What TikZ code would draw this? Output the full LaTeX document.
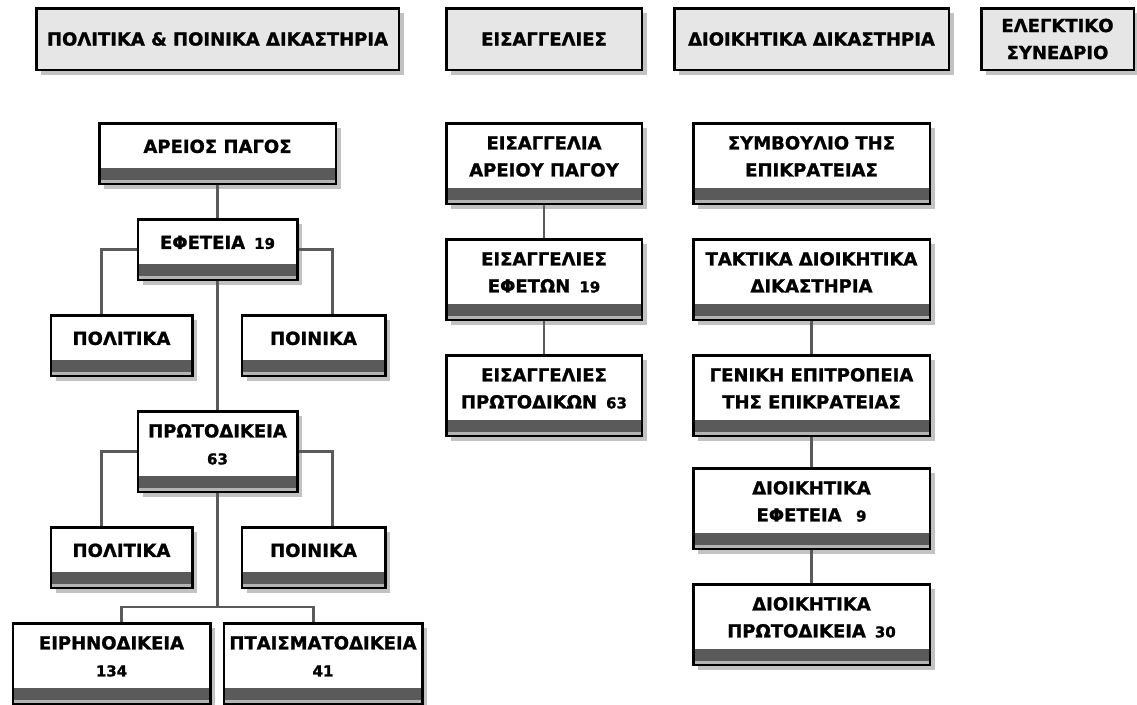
\documentclass[tikz,border=0pt]{standalone}
\usepackage{fontspec}
\setmainfont{DejaVu Sans}[BoldFeatures={FakeBold=1.2}]
\usetikzlibrary{positioning,calc,shadows}

\definecolor{bandgray}{HTML}{5A5A5A}
\definecolor{stripgray}{HTML}{B4B4B4}
\definecolor{headgray}{HTML}{E6E6E6}
\definecolor{linegray}{HTML}{5A5A5A}

\newcommand{\cnt}[1]{{\fontsize{15}{27}\selectfont #1}}
\newcommand{\boxtext}[1]{\raisebox{6pt}[\height][\depth]{\begin{tabular}{@{}c@{}}#1\end{tabular}}}

\begin{document}
\begin{tikzpicture}[font=\fontsize{18}{27}\selectfont\bfseries,node distance=33pt]

  \tikzstyle{H}=[rectangle, draw, line width=2.5pt, fill=headgray, minimum
    height=61.5pt, inner sep=0pt, align=center,
    drop shadow={shadow xshift=5pt,shadow yshift=-5pt,fill=black!40,opacity=.6}];
  \tikzstyle{C}=[rectangle, draw, line width=2.5pt, fill=white, minimum
    height=60.5pt, inner sep=0pt,
    drop shadow={shadow xshift=5pt,shadow yshift=-5pt,fill=black!40,opacity=.6},
    path picture={
      \fill[stripgray] (path picture bounding box.south west) rectangle
        ($(path picture bounding box.south east)+(0,16pt)$);
      \fill[bandgray] ($(path picture bounding box.south west)+(0,3.5pt)$) rectangle
        ($(path picture bounding box.south east)+(0,16pt)$);}];
  \tikzstyle{TALL}=[minimum height=80.5pt];
  \tikzstyle{link}=[draw=linegray, line width=2.5pt];

  \useasboundingbox (0,0) rectangle (1137pt,-704pt);

  %% headers
  \node [H,minimum width=362.5pt,anchor=north west] at (35pt,-7pt) (hpol) {ΠΟΛΙΤΙΚΑ \& ΠΟΙΝΙΚΑ ΔΙΚΑΣΤΗΡΙΑ};
  \node [H,minimum width=195.5pt,right=45pt of hpol] (heis) {ΕΙΣΑΓΓΕΛΙΕΣ};
  \node [H,minimum width=274.5pt,right=30pt of heis] (hdio) {ΔΙΟΙΚΗΤΙΚΑ ΔΙΚΑΣΤΗΡΙΑ};
  \node [H,minimum width=152.5pt,right=30pt of hdio] (hele) {ΕΛΕΓΚΤΙΚΟ\\ΣΥΝΕΔΡΙΟ};

  %% civil & criminal courts
  \node [C,minimum width=236.5pt,below=51pt of hpol] (areios) {\boxtext{ΑΡΕΙΟΣ ΠΑΓΟΣ}};
  \node [C,minimum width=159.5pt,below=of areios] (efeteia) {\boxtext{ΕΦΕΤΕΙΑ\hspace{.5em}\cnt{19}}};
  \node [C,minimum width=141.5pt,below=of efeteia,xshift=-96pt] (pol1) {\boxtext{ΠΟΛΙΤΙΚΑ}};
  \node [C,minimum width=143.5pt,below=of efeteia,xshift=96pt] (poin1) {\boxtext{ΠΟΙΝΙΚΑ}};

  \node [C,TALL,minimum width=159.5pt,below=129pt of efeteia] (protod) {\boxtext{ΠΡΩΤΟΔΙΚΕΙΑ\\\cnt{63}}};
  \node [C,minimum width=141.5pt,below=of protod,xshift=-96pt] (pol2) {\boxtext{ΠΟΛΙΤΙΚΑ}};
  \node [C,minimum width=143.5pt,below=of protod,xshift=96pt] (poin2) {\boxtext{ΠΟΙΝΙΚΑ}};

  \node [C,TALL,minimum width=197.5pt,below=129pt of protod,xshift=-106pt] (eir) {\boxtext{ΕΙΡΗΝΟΔΙΚΕΙΑ\\\cnt{134}}};
  \node [C,TALL,minimum width=198.5pt,below=129pt of protod,xshift=105.5pt] (pta) {\boxtext{ΠΤΑΙΣΜΑΤΟΔΙΚΕΙΑ\\\cnt{41}}};

  \draw[link] (areios) -- (efeteia);
  \draw[link] (efeteia.west) -| ([xshift=52pt]pol1.north west);
  \draw[link] (efeteia.east) -| ([xshift=-54pt]poin1.north east);
  \draw[link] (efeteia) -- (protod);
  \draw[link] (protod.west) -| ([xshift=52pt]pol2.north west);
  \draw[link] (protod.east) -| ([xshift=-54pt]poin2.north east);
  \coordinate [below=114pt of protod.south] (fork);
  \draw[link] (protod) -- (fork);
  \draw[link] ([xshift=110pt]eir.north west) |- (fork) -| ([xshift=91pt]pta.north west);

  %% prosecutors
  \node [C,TALL,minimum width=195.5pt,below=51pt of heis] (eisap) {\boxtext{ΕΙΣΑΓΓΕΛΙΑ\\ΑΡΕΙΟΥ ΠΑΓΟΥ}};
  \node [C,TALL,minimum width=195.5pt,below=of eisap] (eisef) {\boxtext{ΕΙΣΑΓΓΕΛΙΕΣ\\ΕΦΕΤΩΝ\hspace{.5em}\cnt{19}}};
  \node [C,TALL,minimum width=195.5pt,below=of eisef] (eispr) {\boxtext{ΕΙΣΑΓΓΕΛΙΕΣ\\ΠΡΩΤΟΔΙΚΩΝ\hspace{.5em}\cnt{63}}};

  \draw[link] (eisap) -- (eisef);
  \draw[link] (eisef) -- (eispr);

  %% administrative courts
  \node [C,TALL,minimum width=236.5pt,below=51pt of hdio] (symv) {\boxtext{ΣΥΜΒΟΥΛΙΟ ΤΗΣ\\ΕΠΙΚΡΑΤΕΙΑΣ}};
  \node [C,TALL,minimum width=236.5pt,below=of symv] (takt) {\boxtext{ΤΑΚΤΙΚΑ ΔΙΟΙΚΗΤΙΚΑ\\ΔΙΚΑΣΤΗΡΙΑ}};
  \node [C,TALL,minimum width=236.5pt,below=of takt] (genik) {\boxtext{ΓΕΝΙΚΗ ΕΠΙΤΡΟΠΕΙΑ\\ΤΗΣ ΕΠΙΚΡΑΤΕΙΑΣ}};
  \node [C,TALL,minimum width=236.5pt,below=30pt of genik] (dioef) {\boxtext{ΔΙΟΙΚΗΤΙΚΑ\\ΕΦΕΤΕΙΑ\hspace{.8em}\cnt{9}}};
  \node [C,TALL,minimum width=236.5pt,below=of dioef] (diopr) {\boxtext{ΔΙΟΙΚΗΤΙΚΑ\\ΠΡΩΤΟΔΙΚΕΙΑ\hspace{.5em}\cnt{30}}};

  \draw[link] (takt) -- (genik);
  \draw[link] (genik) -- (dioef);
  \draw[link] (dioef) -- (diopr);

\end{tikzpicture}
\end{document}
